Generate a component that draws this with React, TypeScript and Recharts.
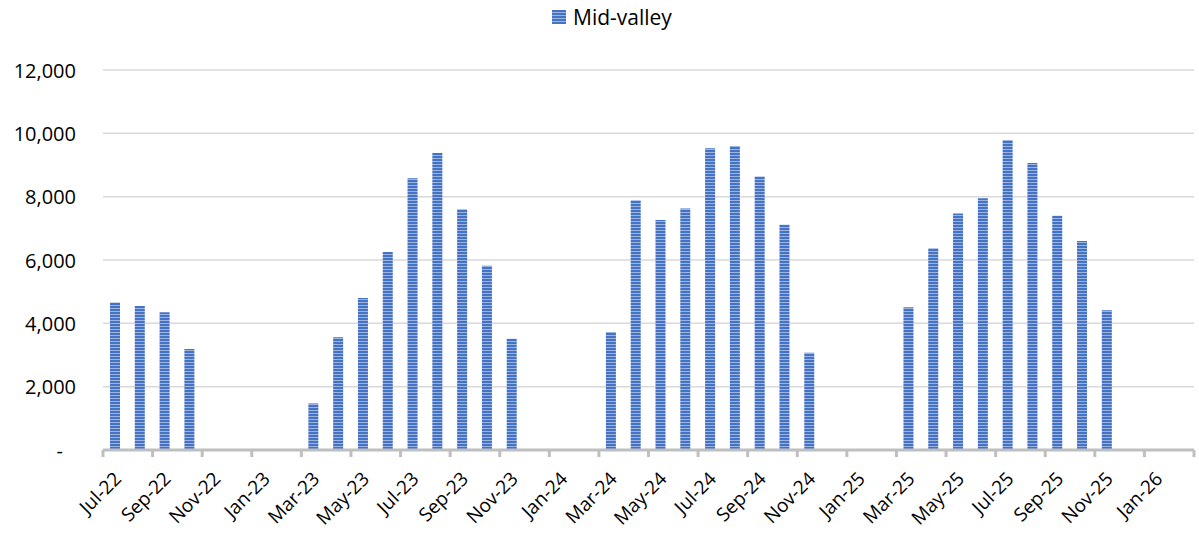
import { Bar, BarChart, CartesianGrid, XAxis, YAxis } from 'recharts'

const months = [
    'Jul-22', 'Aug-22', 'Sep-22', 'Oct-22', 'Nov-22', 'Dec-22',
    'Jan-23', 'Feb-23', 'Mar-23', 'Apr-23', 'May-23', 'Jun-23',
    'Jul-23', 'Aug-23', 'Sep-23', 'Oct-23', 'Nov-23', 'Dec-23',
    'Jan-24', 'Feb-24', 'Mar-24', 'Apr-24', 'May-24', 'Jun-24',
    'Jul-24', 'Aug-24', 'Sep-24', 'Oct-24', 'Nov-24', 'Dec-24',
    'Jan-25', 'Feb-25', 'Mar-25', 'Apr-25', 'May-25', 'Jun-25',
    'Jul-25', 'Aug-25', 'Sep-25', 'Oct-25', 'Nov-25', 'Dec-25',
    'Jan-26', 'Feb-26',
]

const midValley = [
    4660, 4550, 4350, 3190, 0, 0,
    0, 0, 1470, 3560, 4800, 6250,
    8580, 9380, 7600, 5820, 3510, 0,
    0, 0, 3730, 7890, 7260, 7630,
    9530, 9600, 8640, 7110, 3070, 0,
    0, 0, 4510, 6370, 7470, 7950,
    9790, 9060, 7400, 6600, 4410, 0,
    0, 0,
]

const yTicks = [0, 2000, 4000, 6000, 8000, 10000, 12000]

const data = months.map((month, i) => ({ month, value: midValley[i] }))

const WIDTH = 1199
const HEIGHT = 533
const Y_AXIS_W = 103
const RIGHT = 5
const X_AXIS_H = 83
const BAND = (WIDTH - Y_AXIS_W - RIGHT) / months.length
const FONT = '"Open Sans", sans-serif'
const AXIS_GREY = '#BFBFBF'

const XTick = (props: any) => {
    const { x, y, index, payload } = props
    const isLabel = index % 2 === 0
    const isLast = index === months.length - 1
    const tx = x + 7
    const ty = y + 30
    return (
        <g>
            {isLabel && (
                <line x1={x - BAND / 2} x2={x - BAND / 2} y1={y} y2={y + 7} stroke={AXIS_GREY} strokeWidth={3} />
            )}
            {isLast && (
                <line x1={x + BAND / 2} x2={x + BAND / 2} y1={y} y2={y + 7} stroke={AXIS_GREY} strokeWidth={3} />
            )}
            {isLabel && (
                <text
                    x={tx}
                    y={ty}
                    textAnchor="end"
                    transform={`rotate(-45, ${tx}, ${ty})`}
                    fontFamily={FONT}
                    fontSize={19}
                    fill="#000"
                >
                    {payload.value}
                </text>
            )}
        </g>
    )
}

const YTick = (props: any) => {
    const { y, payload } = props
    const v = payload.value as number
    return (
        <text
            x={v === 0 ? 63 : 76}
            y={y}
            textAnchor="end"
            dominantBaseline="central"
            fontFamily={FONT}
            fontSize={20}
            fill="#000"
        >
            {v === 0 ? '-' : v.toLocaleString('en-US')}
        </text>
    )
}

export default function App() {
    return (
        <div style={{ position: 'absolute', left: 0, top: 0, width: WIDTH, height: HEIGHT, background: '#fff' }}>
            <div
                style={{
                    position: 'absolute',
                    top: 3,
                    left: 552,
                    display: 'flex',
                    alignItems: 'center',
                    fontFamily: FONT,
                    fontSize: 21,
                    color: '#000',
                }}
            >
                <span
                    style={{
                        display: 'inline-block',
                        width: 14,
                        height: 14,
                        marginRight: 7,
                        background: 'repeating-linear-gradient(to bottom, #4472C4 0px, #4472C4 2px, #9DB4E0 2px, #9DB4E0 3px)',
                    }}
                />
                <span>Mid-valley</span>
            </div>
            <BarChart
                width={WIDTH}
                height={HEIGHT}
                data={data}
                margin={{ top: 70, right: RIGHT, bottom: 0, left: 0 }}
                barCategoryGap="0%"
            >
                <defs>
                    <pattern id="hstripes" x="0" y="0" width="4" height="3" patternUnits="userSpaceOnUse">
                        <rect x="0" y="0" width="4" height="3" fill="#9DB4E0" />
                        <rect x="0" y="0" width="4" height="2" fill="#4472C4" />
                    </pattern>
                </defs>
                <CartesianGrid vertical={false} stroke="#D9D9D9" strokeWidth={1.5} />
                <XAxis
                    dataKey="month"
                    interval={0}
                    tickSize={0}
                    tickMargin={0}
                    tickLine={false}
                    axisLine={{ stroke: AXIS_GREY, strokeWidth: 3 }}
                    tick={<XTick />}
                    height={X_AXIS_H}
                />
                <YAxis
                    width={Y_AXIS_W}
                    domain={[0, 12000]}
                    ticks={yTicks}
                    axisLine={false}
                    tickLine={false}
                    tick={<YTick />}
                />
                <Bar dataKey="value" barSize={10} fill="url(#hstripes)" isAnimationActive={false} />
            </BarChart>
        </div>
    )
}
